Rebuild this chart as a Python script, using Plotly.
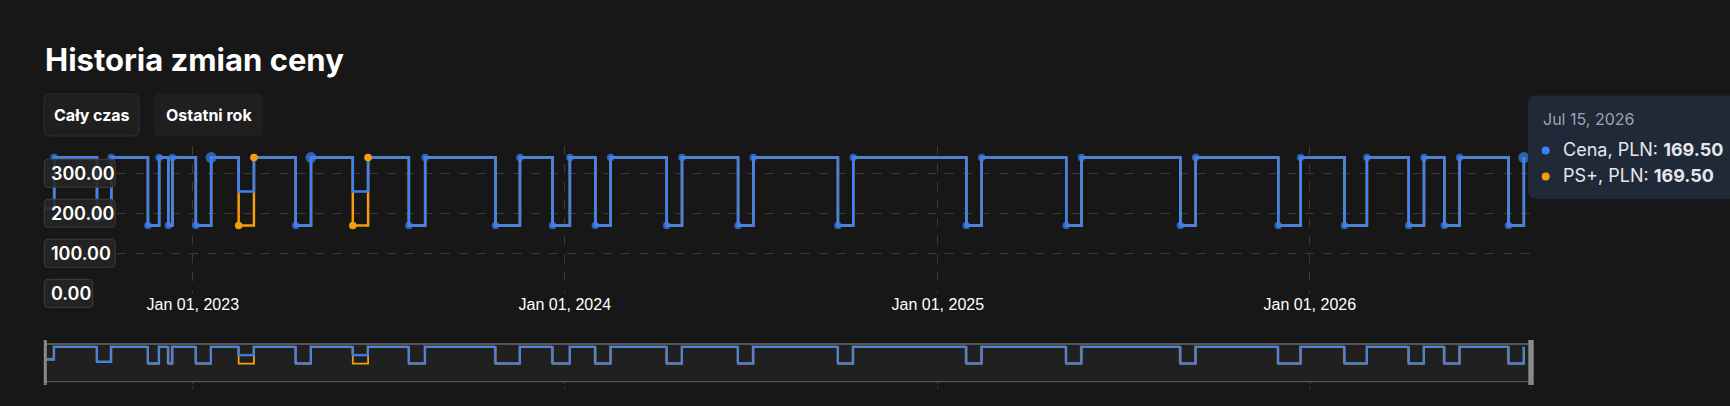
import datetime as _dt
import plotly.graph_objects as go

# ---------------- data ----------------
dates = [
    "2022-08-09", "2022-08-18", "2022-09-29", "2022-10-13", "2022-11-18", "2022-11-29",
    "2022-12-08", "2022-12-12", "2023-01-04", "2023-01-19", "2023-02-15", "2023-03-02",
    "2023-04-12", "2023-04-27", "2023-06-07", "2023-06-22", "2023-08-01", "2023-08-17",
    "2023-10-25", "2023-11-18", "2023-12-20", "2024-01-06", "2024-01-31", "2024-02-15",
    "2024-04-10", "2024-04-25", "2024-06-19", "2024-07-04", "2024-09-25", "2024-10-10",
    "2025-01-29", "2025-02-13", "2025-05-07", "2025-05-22", "2025-08-27", "2025-09-11",
    "2025-12-01", "2025-12-23", "2026-02-04", "2026-02-26", "2026-04-08", "2026-04-23",
    "2026-05-13", "2026-05-28", "2026-07-15", "2026-07-30",
]
price = [
    211.88, 339.00, 186.45, 339.00, 169.50, 339.00, 169.50, 339.00, 169.50, 339.00,
    254.25, 339.00, 169.50, 339.00, 254.25, 339.00, 169.50, 339.00, 169.50, 339.00,
    169.50, 339.00, 169.50, 339.00, 169.50, 339.00, 169.50, 339.00, 169.50, 339.00,
    169.50, 339.00, 169.50, 339.00, 169.50, 339.00, 169.50, 339.00, 169.50, 339.00,
    169.50, 339.00, 169.50, 339.00, 169.50, 339.00,
]
ps_price = [
    211.88, 339.00, 186.45, 339.00, 169.50, 339.00, 169.50, 339.00, 169.50, 339.00,
    169.50, 339.00, 169.50, 339.00, 169.50, 339.00, 169.50, 339.00, 169.50, 339.00,
    169.50, 339.00, 169.50, 339.00, 169.50, 339.00, 169.50, 339.00, 169.50, 339.00,
    169.50, 339.00, 169.50, 339.00, 169.50, 339.00, 169.50, 339.00, 169.50, 339.00,
    169.50, 339.00, 169.50, 339.00, 169.50, 339.00,
]
series_names = ["Cena, PLN", "PS+, PLN"]
x_range = ["2022-08-09", "2026-08-06"]
year_ticks = ["2023-01-01", "2024-01-01", "2025-01-01", "2026-01-01"]
y_ticks = [0, 100, 200, 300]
y_max = 368
title_text = "Historia zmian ceny"
buttons = ["Cały czas", "Ostatni rok"]
hover_index = 44

# ---------------- geometry / style ----------------
W, H = 1730, 406
ML, MR, MT, MB = 45, 199, 146, 10
PW, PH = W - ML - MR, H - MT - MB
BG = "#171717"
BLUE = "#3b82f6"
ORANGE = "#f59e0b"
GRID = "#3a3a3a"
FONT = "Inter"

MAIN_TOP, MAIN_BOT = 146.0, 293.3
SL_TOP, SL_ZERO = 344.1, 380.4
SL_BOX_TOP, SL_BOX_BOT = 344.0, 381.7


def px(x):
    return (x - ML) / PW


def py(y):
    return (H - MB - y) / PH


def val_to_py(v):
    return MAIN_BOT - v / y_max * (MAIN_BOT - MAIN_TOP)


def rrect(x0, y0, x1, y1, r):
    return (
        f"M {px(x0 + r)},{py(y0)} L {px(x1 - r)},{py(y0)} "
        f"Q {px(x1)},{py(y0)} {px(x1)},{py(y0 + r)} L {px(x1)},{py(y1 - r)} "
        f"Q {px(x1)},{py(y1)} {px(x1 - r)},{py(y1)} L {px(x0 + r)},{py(y1)} "
        f"Q {px(x0)},{py(y1)} {px(x0)},{py(y1 - r)} L {px(x0)},{py(y0 + r)} "
        f"Q {px(x0)},{py(y0)} {px(x0 + r)},{py(y0)} Z"
    )


n = len(dates)
differs = [price[i] != ps_price[i] for i in range(n)]
blue_mk_size = []
for i in range(n):
    if differs[i] or i == 0:
        blue_mk_size.append(0)
    elif (i + 1 < n and differs[i + 1]) or i == n - 1:
        blue_mk_size.append(11)
    else:
        blue_mk_size.append(7.5)
orange_idx = [i for i in range(n) if differs[i] or (i > 0 and differs[i - 1])]

fig = go.Figure()

# main chart: PS+ line beneath, price line on top
fig.add_trace(go.Scatter(
    x=dates, y=ps_price, mode="lines", line=dict(color=ORANGE, width=2.5, shape="hv"),
    name=series_names[1], xaxis="x", yaxis="y", hoverinfo="skip"))
fig.add_trace(go.Scatter(
    x=dates, y=price, mode="lines+markers", line=dict(color=BLUE, width=2.5, shape="hv"),
    marker=dict(color=BLUE, size=blue_mk_size, line=dict(width=0)),
    name=series_names[0], xaxis="x", yaxis="y",
    hovertemplate="%{x|%b %d, %Y}<br>" + series_names[0] + ": %{y:.2f}<extra></extra>"))
fig.add_trace(go.Scatter(
    x=[dates[i] for i in orange_idx], y=[ps_price[i] for i in orange_idx], mode="markers",
    marker=dict(color=ORANGE, size=7.5, line=dict(width=0)),
    name=series_names[1], xaxis="x", yaxis="y",
    hovertemplate="%{x|%b %d, %Y}<br>" + series_names[1] + ": %{y:.2f}<extra></extra>"))

# slider mini chart: gray shadow (x2/y2, drawn first), then PS+ and price (x3/y3, on top)
fig.add_trace(go.Scatter(
    x=dates, y=price, mode="lines", line=dict(color="#5a5a5a", width=1.3, shape="hv"),
    xaxis="x2", yaxis="y2", hoverinfo="skip"))
fig.add_trace(go.Scatter(
    x=dates, y=ps_price, mode="lines", line=dict(color=ORANGE, width=1.8, shape="hv"),
    xaxis="x3", yaxis="y3", hoverinfo="skip"))
fig.add_trace(go.Scatter(
    x=dates, y=price, mode="lines", line=dict(color=BLUE, width=1.8, shape="hv"),
    xaxis="x3", yaxis="y3", hoverinfo="skip"))

shapes = []
annotations = []

# slider background and borders
shapes.append(dict(type="rect", xref="paper", yref="paper", x0=px(45), x1=px(1531),
                   y0=py(SL_BOX_BOT), y1=py(SL_BOX_TOP), fillcolor="#202020",
                   line=dict(width=0), layer="below"))
shapes.append(dict(type="line", xref="paper", yref="paper", x0=px(45), x1=px(1531),
                   y0=py(SL_BOX_TOP), y1=py(SL_BOX_TOP), line=dict(color="#555555", width=2)))
shapes.append(dict(type="line", xref="paper", yref="paper", x0=px(45), x1=px(1531),
                   y0=py(SL_BOX_BOT), y1=py(SL_BOX_BOT), line=dict(color="#555555", width=1.2)))
# handles
shapes.append(dict(type="rect", xref="paper", yref="paper", x0=px(43.8), x1=px(46.8),
                   y0=py(385), y1=py(340), fillcolor="#8a8a8a", line=dict(width=0)))
shapes.append(dict(type="rect", xref="paper", yref="paper", x0=px(1528.3), x1=px(1533.7),
                   y0=py(385), y1=py(340), fillcolor="#8a8a8a", line=dict(width=0)))
# slider ticks
for d in [x_range[0]] + year_ticks + [x_range[1]]:
    shapes.append(dict(type="line", xref="x3", yref="paper", x0=d, x1=d,
                       y0=py(382.5), y1=py(389.5), line=dict(color="#4a4a4a", width=1, dash="2px,2px")))

# y-axis label boxes
DIGIT_W, DOT_W = 11.2, 5.4
for v in y_ticks:
    t = f"{v:.2f}"
    tw = sum(DOT_W if c == "." else DIGIT_W for c in t)
    yc = val_to_py(v)
    shapes.append(dict(type="path", xref="paper", yref="paper",
                       path=rrect(44.3, yc - 14, 44.3 + tw + 9.5, yc + 14, 4),
                       fillcolor="rgba(38,38,38,0.88)", line=dict(color="#3e3e3e", width=1),
                       layer="above"))
    annotations.append(dict(xref="paper", yref="paper", x=px(49.3), y=py(yc + 0.5),
                            xanchor="left", yanchor="middle", showarrow=False, text=t,
                            font=dict(family=FONT, size=18, color="#ffffff", weight=600)))

# title
annotations.append(dict(xref="paper", yref="paper", x=px(42.5), y=py(59.5), xanchor="left",
                        yanchor="middle", showarrow=False, text=title_text,
                        font=dict(family=FONT, size=31, color="#ffffff", weight=650)))

# buttons
btn_boxes = [(44, 94, 139, 136), (154, 94, 263, 136)]
for k, (label, (x0, y0, x1, y1)) in enumerate(zip(buttons, btn_boxes)):
    shapes.append(dict(type="path", xref="paper", yref="paper", path=rrect(x0, y0, x1, y1, 6),
                       fillcolor="#1f1f1f",
                       line=dict(color="#2e2e2e" if k == 0 else "#1f1f1f", width=1)))
    annotations.append(dict(xref="paper", yref="paper", x=px((x0 + x1) / 2), y=py((y0 + y1) / 2),
                            xanchor="center", yanchor="middle", showarrow=False, text=label,
                            font=dict(family=FONT, size=16, color="#ffffff", weight=700)))

# tooltip
shapes.append(dict(type="path", xref="paper", yref="paper", path=rrect(1528, 95.5, 1745, 199, 9),
                   fillcolor="#1f2937", line=dict(width=0)))
hd = _dt.date.fromisoformat(dates[hover_index])
annotations.append(dict(xref="paper", yref="paper", x=px(1541), y=py(119.5), xanchor="left",
                        yanchor="middle", showarrow=False,
                        text=hd.strftime("%b %d, %Y").replace(" 0", " "),
                        font=dict(family=FONT, size=16, color="#9ca3af")))
for j, (nm, vals, col) in enumerate([(series_names[0], price, BLUE), (series_names[1], ps_price, ORANGE)]):
    yc = 150.5 + j * 26
    shapes.append(dict(type="circle", xref="paper", yref="paper", x0=px(1541.7), x1=px(1549.7),
                       y0=py(yc + 4), y1=py(yc - 4), fillcolor=col, line=dict(width=0)))
    annotations.append(dict(xref="paper", yref="paper", x=px(1561), y=py(yc - 1), xanchor="left",
                            yanchor="middle", showarrow=False,
                            text=f"{nm}: <b>{vals[hover_index]:.2f}</b>",
                            font=dict(family=FONT, size=18, color="#e5e7eb")))

fig.update_layout(
    width=W, height=H, margin=dict(l=ML, r=MR, t=MT, b=MB, autoexpand=False),
    paper_bgcolor=BG, plot_bgcolor="rgba(0,0,0,0)", showlegend=False,
    shapes=shapes, annotations=annotations, hovermode="closest",
    xaxis=dict(type="date", range=x_range, domain=[0, 1], anchor="y",
               tickvals=year_ticks, tickformat="%b %d, %Y", showgrid=True,
               gridcolor=GRID, griddash="dash", gridwidth=1, zeroline=False, showline=False,
               ticks="", tickfont=dict(family="Liberation Sans", size=16, color="#ffffff")),
    yaxis=dict(range=[0, y_max], domain=[py(MAIN_BOT), py(MAIN_TOP)], anchor="x",
               tickvals=y_ticks, showgrid=True, gridcolor=GRID, griddash="dash", gridwidth=1,
               zeroline=False, showline=False, showticklabels=False, ticks=""),
    xaxis2=dict(type="date", range=["2022-08-10", "2026-08-07"], domain=[0, 1], anchor="y2",
                visible=False),
    yaxis2=dict(range=[0, y_max], domain=[py(SL_ZERO - 1), py(SL_TOP - 1)], anchor="x2",
                visible=False),
    xaxis3=dict(type="date", range=x_range, domain=[0, 1], anchor="y3", visible=False),
    yaxis3=dict(range=[0, y_max], domain=[py(SL_ZERO), py(SL_TOP)], anchor="x3", visible=False),
)

fig.write_html("out.html", include_plotlyjs=True, full_html=True,
               config={"displayModeBar": False},
               post_script="document.body.style.margin='0';document.body.style.background='#171717';document.body.style.overflow='hidden';")
